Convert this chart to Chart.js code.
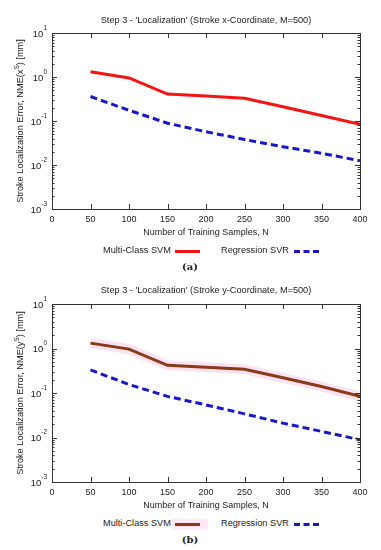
<!DOCTYPE html>
<html>
<head>
<meta charset="utf-8">
<script src="https://cdn.jsdelivr.net/npm/chart.js@4.4.0/dist/chart.umd.min.js"></script>
<style>
  body { margin: 0; background: #fff; width: 381px; height: 550px; position: relative; overflow: hidden;
         font-family: "Liberation Sans", Arial, sans-serif; color: #222; }
  canvas { position: absolute; left: 0; }
  .ttl { position: absolute; font-size: 9.2px; white-space: nowrap; transform: translate(-50%, -50%); }
  .ytitle { position: absolute; font-size: 9.2px; white-space: nowrap; transform: translate(-50%, -50%) rotate(-90deg); }
  .ytitle sup { font-size: 6.5px; }
  .legend { position: absolute; font-size: 9.2px; white-space: nowrap; }
  .legend span { position: absolute; top: 0; }
  .smp { position: absolute; width: 25px; height: 0; }
  .cap { position: absolute; font-family: "DejaVu Serif", "Liberation Serif", serif; font-weight: bold; font-size: 10px; transform: translateX(-50%); }
</style>
</head>
<body>
<canvas id="chartA" width="381" height="243" style="top:0px"></canvas>
<canvas id="chartB" width="381" height="245" style="top:271px"></canvas>

<div class="ttl" style="left:206px; top:20px">Step 3 - 'Localization' (Stroke x-Coordinate, M=500)</div>
<div class="ttl" style="left:206px; top:290px">Step 3 - 'Localization' (Stroke y-Coordinate, M=500)</div>

<div class="ytitle" style="left:19px; top:121px">Stroke Localization Error, NME(x<sup>S</sup>) [mm]</div>
<div class="ytitle" style="left:19px; top:393px">Stroke Localization Error, NME(y<sup>S</sup>) [mm]</div>

<div class="legend" style="left:0; top:245px">
  <span style="left:103px">Multi-Class SVM</span>
  <div class="smp" style="left:175px; top:5px; border-top:3px solid #f51414"></div>
  <span style="left:221px">Regression SVR</span>
  <div class="smp" style="left:294px; top:5px; border-top:3px dashed #1818c8"></div>
</div>
<div class="cap" style="left:190px; top:261px">(a)</div>

<div class="legend" style="left:0; top:518px">
  <span style="left:103px">Multi-Class SVM</span>
  <div style="position:absolute; left:172px; top:1px; width:36px; height:10px; background:#fde6f6"></div>
  <div class="smp" style="left:175px; top:5px; border-top:3px solid #8a3a16"></div>
  <span style="left:221px">Regression SVR</span>
  <div class="smp" style="left:294px; top:5px; border-top:3px dashed #1818c8"></div>
</div>
<div class="cap" style="left:190px; top:534px">(b)</div>

<script>
// training sample counts (x axis)
var samples = [50, 100, 150, 200, 250, 300, 350, 400];

// (a) x-coordinate
var svmX = [1.32, 0.95, 0.41, 0.37, 0.33, 0.21, 0.133, 0.084];
var svrX = [0.36, 0.175, 0.089, 0.057, 0.038, 0.026, 0.0185, 0.0125];

// (b) y-coordinate
var svmY = [1.32, 0.97, 0.42, 0.38, 0.34, 0.22, 0.14, 0.084];
var svrY = [0.33, 0.155, 0.084, 0.054, 0.034, 0.021, 0.0137, 0.0089];

var xTicks = [0, 50, 100, 150, 200, 250, 300, 350, 400];
var yTicks = [0.001, 0.01, 0.1, 1, 10];
var yExp = ["-3", "-2", "-1", "0", "1"];

function pts(ys) {
	var out = [];
	for (var i in samples) out.push({x: samples[i], y: ys[i]});
	return out;
}

// gnuplot-like frame with inward ticks on all four sides, plus 10^n labels
var framePlugin = {
	id: 'frame',
	afterDraw: function(chart) {
		var ctx = chart.ctx, a = chart.chartArea;
		var xs = chart.scales.x, ys = chart.scales.y;
		ctx.save();
		ctx.strokeStyle = '#333';
		ctx.lineWidth = 1;
		ctx.strokeRect(Math.round(a.left) + 0.5, Math.round(a.top) + 0.5, Math.round(a.right - a.left), Math.round(a.bottom - a.top));
		ctx.beginPath();
		xTicks.forEach(function(v) {
			var px = Math.round(xs.getPixelForValue(v)) + 0.5;
			ctx.moveTo(px, a.bottom); ctx.lineTo(px, a.bottom - 5);
			ctx.moveTo(px, a.top); ctx.lineTo(px, a.top + 5);
		});
		for (var d = -3; d <= 0; d++) {
			for (var m = 1; m <= 9; m++) {
				var py = Math.round(ys.getPixelForValue(m * Math.pow(10, d))) + 0.5;
				var len = (m == 1) ? 5 : 2.5;
				ctx.moveTo(a.left, py); ctx.lineTo(a.left + len, py);
				ctx.moveTo(a.right, py); ctx.lineTo(a.right - len, py);
			}
		}
		ctx.stroke();

		// y tick labels: "10" with a small raised exponent
		ctx.fillStyle = '#222';
		ctx.textBaseline = 'middle';
		yTicks.forEach(function(v, i) {
			var py = ys.getPixelForValue(v);
			ctx.font = '6.5px "Liberation Sans"';
			var ew = ctx.measureText(yExp[i]).width;
			var right = a.left - 5;
			ctx.textAlign = 'left';
			ctx.fillText(yExp[i], right - ew, py - 5);
			ctx.font = '9.5px "Liberation Sans"';
			ctx.textAlign = 'right';
			ctx.fillText('10', right - ew, py + 1);
		});
		ctx.restore();
	}
};

function makeChart(id, datasets) {
	return new Chart(document.getElementById(id), {
		type: 'line',
		data: { datasets: datasets },
		options: {
			responsive: false,
			animation: false,
			devicePixelRatio: 1,
			layout: { padding: { top: 33, right: 21, left: 0, bottom: 2 } },
			elements: { point: { radius: 0 } },
			plugins: {
				legend: { display: false },
				tooltip: { enabled: false }
			},
			scales: {
				x: {
					type: 'linear', min: 0, max: 400,
					afterBuildTicks: function(s) { s.ticks = xTicks.map(function(v) { return {value: v}; }); },
					afterFit: function(s) { s.height = 32; },
					grid: { display: false, drawTicks: false },
					border: { display: false },
					ticks: { color: '#222', font: { family: 'Liberation Sans', size: 9 }, padding: 5, maxRotation: 0 },
					title: { display: true, text: 'Number of Training Samples, N', color: '#222',
						font: { family: 'Liberation Sans', size: 9 }, padding: { top: 2, bottom: 3 } }
				},
				y: {
					type: 'logarithmic', min: 0.001, max: 10,
					afterFit: function(s) { s.width = 52; },
					grid: { display: false, drawTicks: false },
					border: { display: false },
					ticks: { display: false }
				}
			}
		},
		plugins: [framePlugin]
	});
}

makeChart('chartA', [
	{ label: 'Multi-Class SVM', data: pts(svmX), borderColor: '#f51414', borderWidth: 3, fill: false, tension: 0 },
	{ label: 'Regression SVR', data: pts(svrX), borderColor: '#1818c8', borderWidth: 3, borderDash: [7, 4], fill: false, tension: 0 }
]);

makeChart('chartB', [
	{ label: 'Multi-Class SVM', data: pts(svmY), borderColor: '#8a3a16', borderWidth: 3, fill: false, tension: 0, order: 1 },
	{ label: 'band', data: pts(svmY), borderColor: 'rgba(252,214,240,0.7)', borderWidth: 10, fill: false, tension: 0, order: 3 },
	{ label: 'Regression SVR', data: pts(svrY), borderColor: '#1818c8', borderWidth: 3, borderDash: [7, 4], fill: false, tension: 0, order: 2 }
]);
</script>
</body>
</html>
